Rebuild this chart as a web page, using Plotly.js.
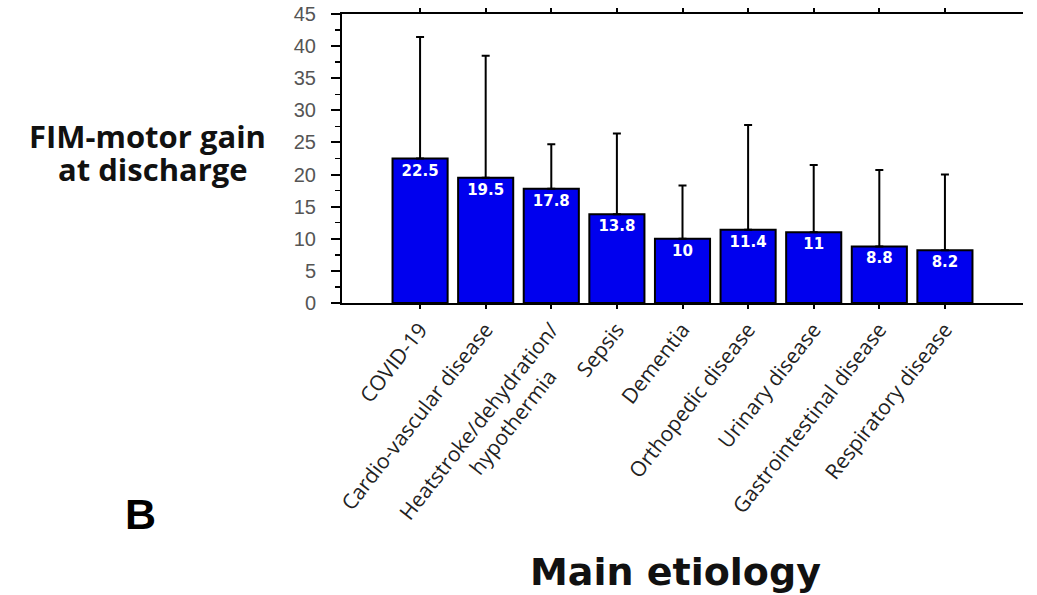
<!DOCTYPE html>
<html>
<head>
<meta charset="utf-8">
<script src="https://cdn.plot.ly/plotly-3.0.1.min.js"></script>
<style>html,body{margin:0;padding:0;background:#fff;}#chart{width:1037px;height:595px;}</style>
</head>
<body>
<div id="chart"></div>
<script>
var categories = [
  "COVID-19",
  "Cardio-vascular disease",
  "Heatstroke/dehydration/<br>hypothermia\u00A0\u00A0\u00A0\u00A0\u00A0\u00A0\u00A0",
  "Sepsis",
  "Dementia",
  "Orthopedic disease",
  "Urinary disease",
  "Gastrointestinal disease",
  "Respiratory disease"
];
var meanGain = [22.5, 19.5, 17.8, 13.8, 10, 11.4, 11, 8.8, 8.2];
var upperSD = [41.4, 38.5, 24.7, 26.4, 18.3, 27.7, 21.5, 20.7, 20.0];
var yTitleLines = ["FIM-motor gain", "at discharge"];
var xTitle = "Main etiology";
var panelLabel = "B";

var errPlus = upperSD.map(function (u, i) { return +(u - meanGain[i]).toFixed(2); });

var trace = {
  type: "bar",
  x: categories,
  y: meanGain,
  width: 0.84,
  marker: { color: "#0000EE", line: { color: "#000", width: 2 } },
  text: meanGain.map(String),
  textposition: "inside",
  insidetextanchor: "end",
  textangle: 0,
  textfont: { family: "DejaVu Sans, sans-serif", size: 15, color: "#fff", weight: "bold" },
  error_y: { type: "data", symmetric: false, array: errPlus, arrayminus: meanGain.map(function(){return 0;}), color: "#000", thickness: 2, width: 4 },
  hoverinfo: "x+y"
};

var layout = {
  width: 1037, height: 595,
  margin: { l: 342, r: 14, t: 14, b: 292 },
  paper_bgcolor: "#fff", plot_bgcolor: "#fff",
  showlegend: false,
  xaxis: {
    type: "category",
    range: [-1.19, 9.19],
    showline: true, linecolor: "#000", linewidth: 2, mirror: "ticks",
    ticks: "outside", ticklen: 4, tickwidth: 2, tickcolor: "#000",
    tickangle: -52,
    tickfont: { family: "Open Sans, sans-serif", size: 21, color: "#222" },
    showgrid: false, zeroline: false, fixedrange: true
  },
  yaxis: {
    range: [0, 45], dtick: 5, tick0: 0,
    showline: true, linecolor: "#000", linewidth: 2,
    ticks: "outside", ticklen: 9, tickwidth: 2, tickcolor: "#000",
    minor: { dtick: 2.5, ticks: "outside", ticklen: 5, tickwidth: 1.5, tickcolor: "#000", showgrid: false },
    ticklabelstandoff: 11,
    tickfont: { family: "Liberation Sans, Arial, sans-serif", size: 20, color: "#555" },
    showgrid: false, zeroline: false, fixedrange: true
  },
  yaxis2: {
    overlaying: "y", side: "right", anchor: "x",
    range: [0, 45], dtick: 2.5, tick0: 0,
    showline: true, linecolor: "#000", linewidth: 2,
    ticks: "inside", ticklen: 6, tickwidth: 2, tickcolor: "#000",
    showticklabels: false, showgrid: false, zeroline: false, fixedrange: true
  },
  annotations: [
    { xref: "paper", yref: "paper", x: -0.2863, y: 0.578, text: yTitleLines[0], showarrow: false,
      xanchor: "center", yanchor: "middle",
      font: { family: "Open Sans, sans-serif", size: 31, color: "#111", weight: "bold" } },
    { xref: "paper", yref: "paper", x: -0.2775, y: 0.462, text: yTitleLines[1], showarrow: false,
      xanchor: "center", yanchor: "middle",
      font: { family: "Open Sans, sans-serif", size: 31, color: "#111", weight: "bold" } },
    { xref: "paper", yref: "paper", x: -0.2952, y: -0.73, text: panelLabel, showarrow: false,
      xanchor: "center", yanchor: "middle",
      font: { family: "Liberation Sans, Arial, sans-serif", size: 43, color: "#000", weight: "bold" } },
    { xref: "paper", yref: "paper", x: 0.489, y: -0.931, text: xTitle, showarrow: false,
      xanchor: "center", yanchor: "middle",
      font: { family: "DejaVu Sans, sans-serif", size: 38, color: "#111", weight: "bold" } }
  ]
};

Plotly.newPlot("chart", [trace], layout, { displayModeBar: false, staticPlot: true });
</script>
</body>
</html>
